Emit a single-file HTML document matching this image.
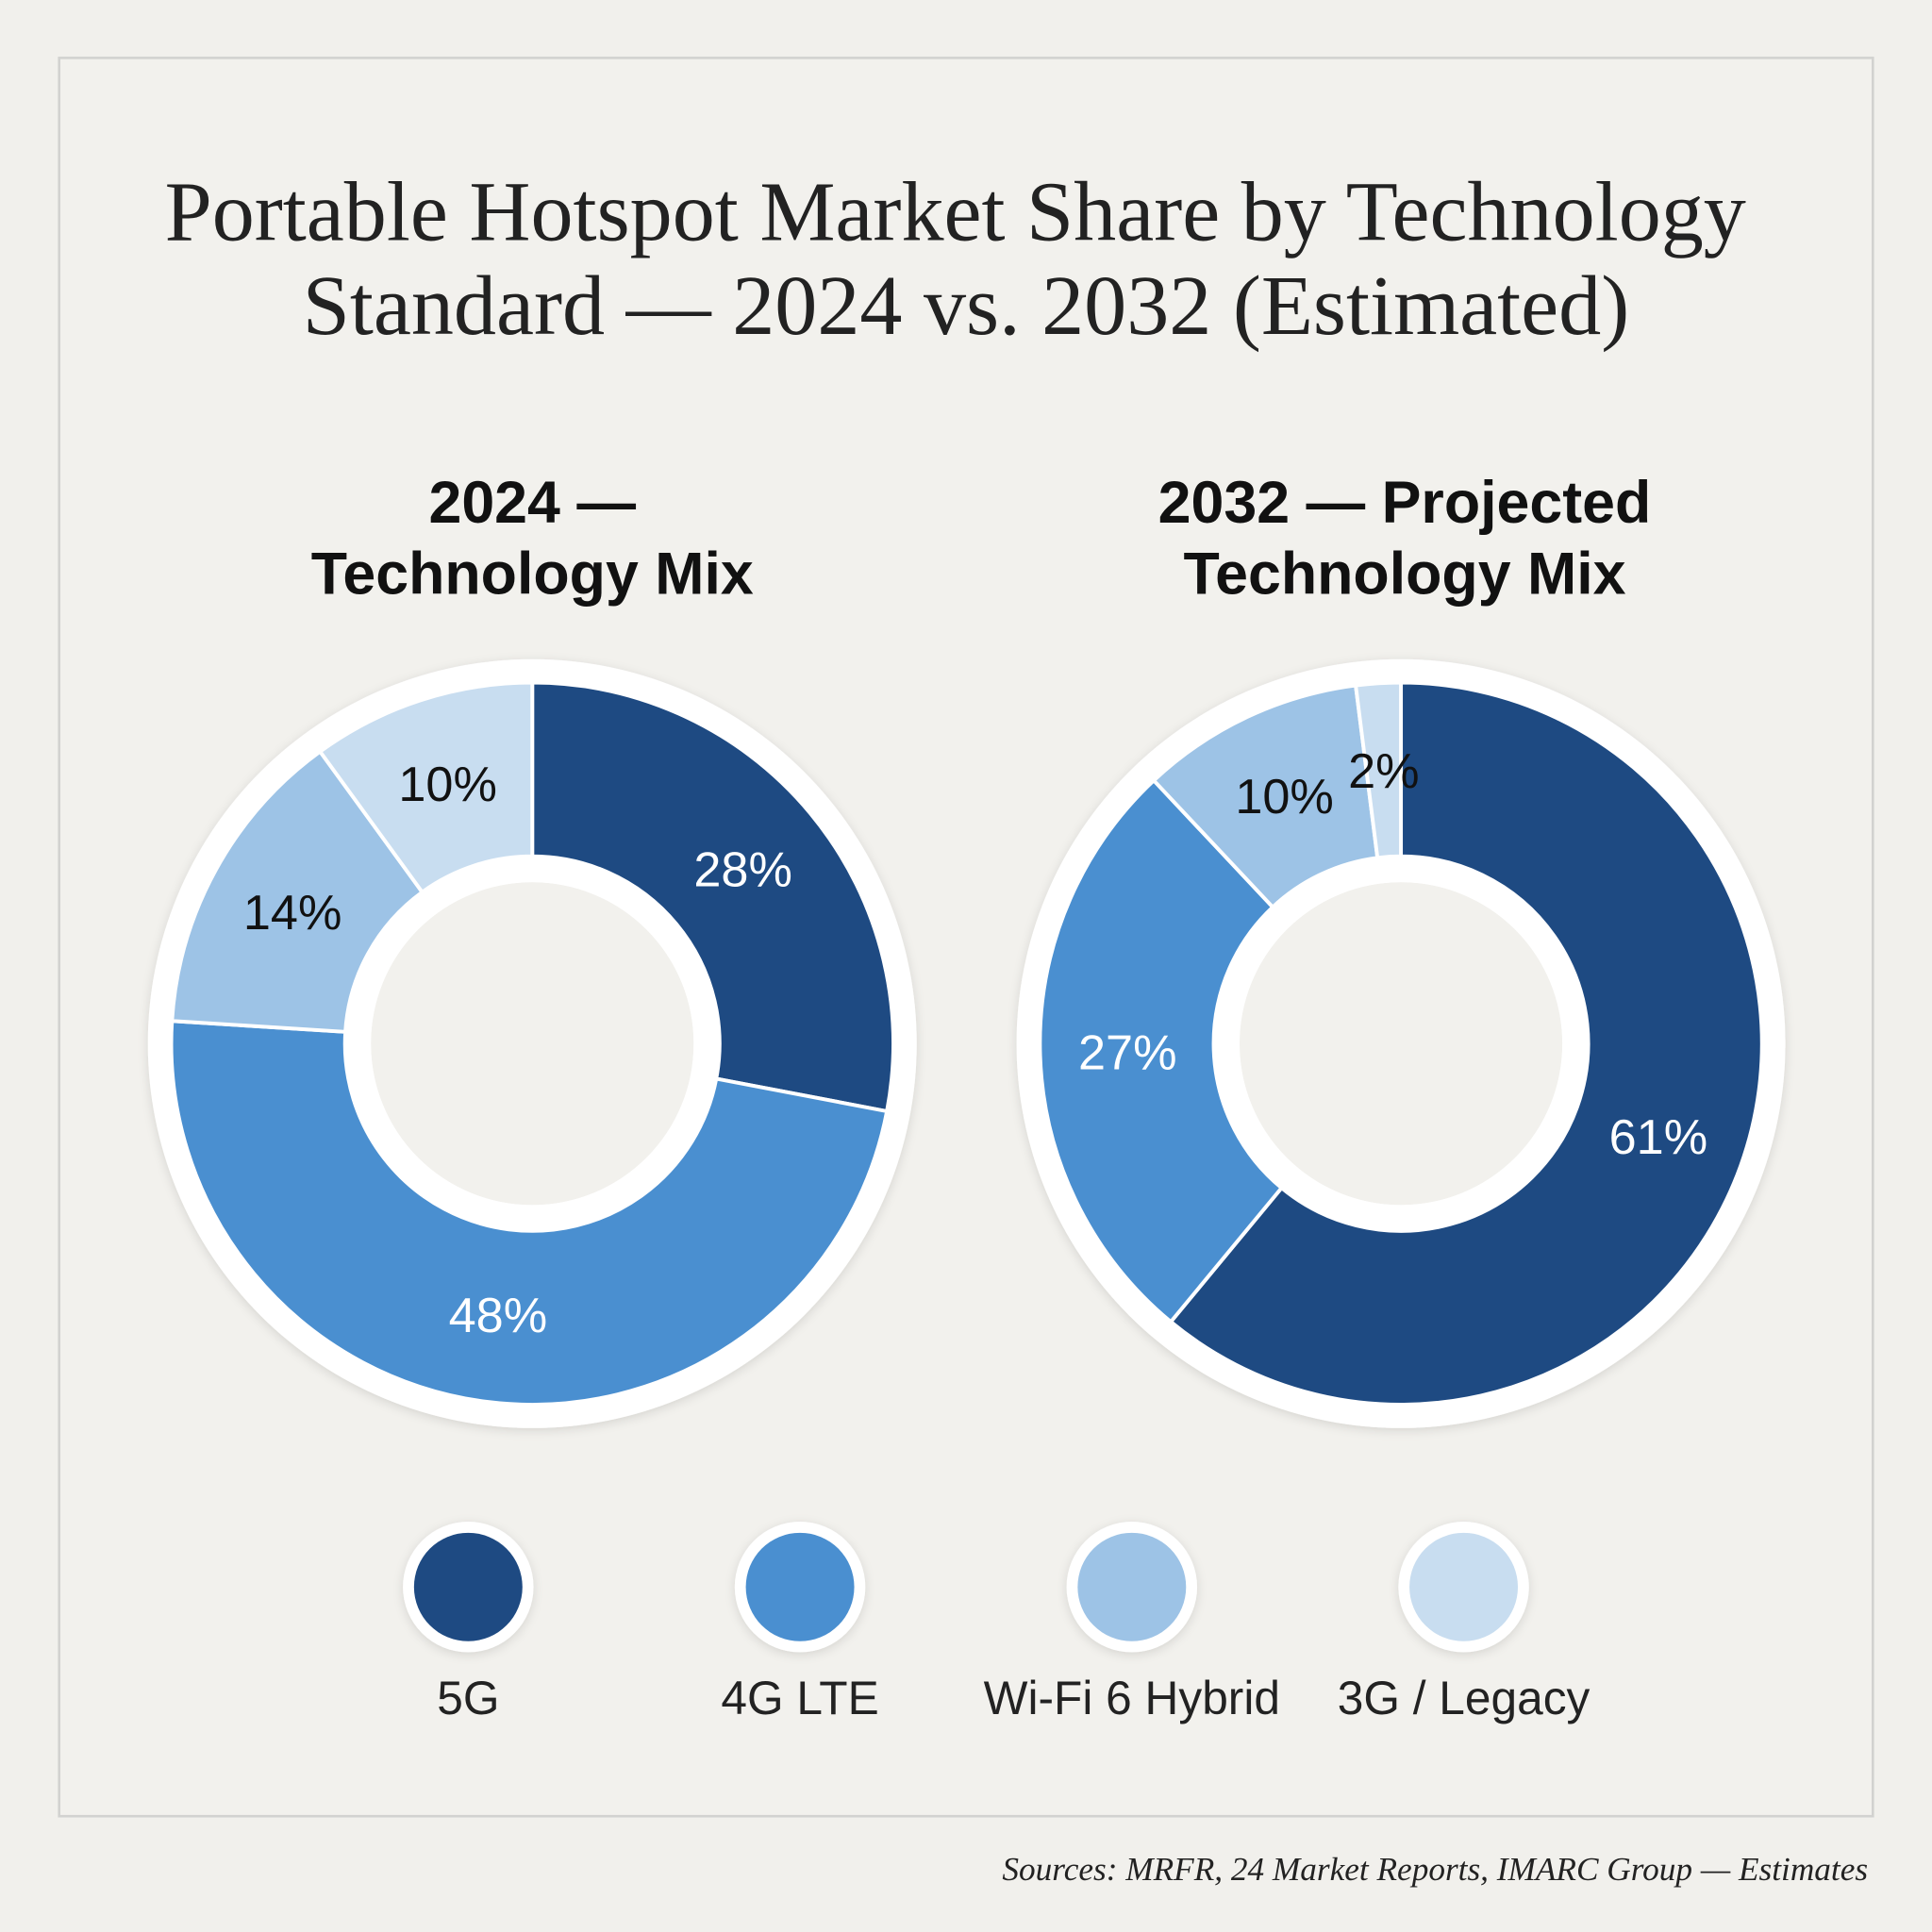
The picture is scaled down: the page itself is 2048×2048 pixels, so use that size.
<!DOCTYPE html>
<html><head><meta charset="utf-8"><style>
html,body{margin:0;padding:0;background:#f1f0ec;}
svg{display:block}
</style></head><body>
<svg id="chart" width="2048" height="2048" viewBox="0 0 1568 1568" xmlns="http://www.w3.org/2000/svg">
<defs>
<filter id="sh" x="-20%" y="-20%" width="140%" height="140%"><feDropShadow dx="0" dy="2" stdDeviation="4" flood-color="#000" flood-opacity="0.12"/></filter>
</defs>
<rect width="1568" height="1568" fill="#f1f0ec"/>
<rect x="48" y="47" width="1472" height="1427" fill="#f2f1ed" stroke="#d2d2d0" stroke-width="2"/>
<text font-family="'Liberation Serif',serif" font-size="69" fill="#222" text-anchor="middle">
<tspan x="784" y="195">Portable Hotspot Market Share by Technology</tspan>
<tspan x="784" y="271">Standard — 2024 vs. 2032 (Estimated)</tspan></text>
<text font-family="'Liberation Sans',sans-serif" font-weight="bold" font-size="48" fill="#111" text-anchor="middle">
<tspan x="432" y="424">2024 —</tspan><tspan x="432" y="482">Technology Mix</tspan></text>
<text font-family="'Liberation Sans',sans-serif" font-weight="bold" font-size="48" fill="#111" text-anchor="middle">
<tspan x="1140" y="424">2032 — Projected</tspan><tspan x="1140" y="482">Technology Mix</tspan></text>
<g id="donuts"></g>
<g id="legend"></g>
<text x="1516" y="1526" font-family="'Liberation Serif',serif" font-style="italic" font-size="27" fill="#222" text-anchor="end">Sources: MRFR, 24 Market Reports, IMARC Group — Estimates</text>
</svg>
<script>
const categories = ["5G", "4G LTE", "Wi-Fi 6 Hybrid", "3G / Legacy"];
const values2024 = [28, 48, 14, 10];
const values2032 = [61, 27, 10, 2];
const colors = ["#1e4a82", "#4a8fd0", "#9dc3e6", "#c8ddf0"];
const labelColors = ["#fff", "#fff", "#111", "#111"];

const NS = "http://www.w3.org/2000/svg";
const g = document.getElementById("donuts");
function mk(tag, attrs, parent){const e=document.createElementNS(NS,tag);for(const k in attrs)e.setAttribute(k,attrs[k]);parent.appendChild(e);return e;}
function pt(cx,cy,r,a){return [cx+r*Math.sin(a), cy-r*Math.cos(a)];}
function donut(cx, cy, vals, name){
  const grp = mk("g",{},g);
  
  
  const ring = mk("circle",{cx:cx,cy:cy,r:312,fill:"#fff",filter:"url(#sh)"},grp);
  
  
  const R=293, r=152;
  const total = vals.reduce((a,b)=>a+b,0);
  let acc=0;
  vals.forEach((v,i)=>{
    const a0 = acc/total*2*Math.PI; acc+=v; const a1 = acc/total*2*Math.PI;
    const large = (a1-a0)>Math.PI?1:0;
    const p0=pt(cx,cy,R,a0), p1=pt(cx,cy,R,a1), q1=pt(cx,cy,r,a1), q0=pt(cx,cy,r,a0);
    const d=`M${p0[0]},${p0[1]} A${R},${R} 0 ${large} 1 ${p1[0]},${p1[1]} L${q1[0]},${q1[1]} A${r},${r} 0 ${large} 0 ${q0[0]},${q0[1]} Z`;
    const s = mk("path",{d:d,fill:colors[i],stroke:"#fff","stroke-width":3},grp);
    
    
    const am=(a0+a1)/2;
    const lp=pt(cx,cy,222,am);
    const t = mk("text",{x:lp[0],y:lp[1]+14,"text-anchor":"middle","font-family":"'Liberation Sans',sans-serif","font-size":40,fill:labelColors[i]},grp);
    
    
    t.textContent = v+"%";
  });
  const hole = mk("circle",{cx:cx,cy:cy,r:131,fill:"#f2f1ed"},grp);
  
  
  const inner = mk("circle",{cx:cx,cy:cy,r:141.5,fill:"none",stroke:"#fff","stroke-width":21},grp);
  
  
}
donut(432, 847, values2024, "donut-2024");
donut(1137, 847, values2032, "donut-2032");

const lg = document.getElementById("legend");
categories.forEach((c,i)=>{
  const x = 380 + i*269.3;
  const e = mk("g",{},lg);
  
  
  mk("circle",{cx:x,cy:1288,r:53,fill:"#fff",filter:"url(#sh)"},e);
  mk("circle",{cx:x,cy:1288,r:44,fill:colors[i]},e);
  const t = mk("text",{x:x,y:1391,"text-anchor":"middle","font-family":"'Liberation Sans',sans-serif","font-size":38,fill:"#222"},e);
  
  
  t.textContent = c;
});
</script>
</body></html>
